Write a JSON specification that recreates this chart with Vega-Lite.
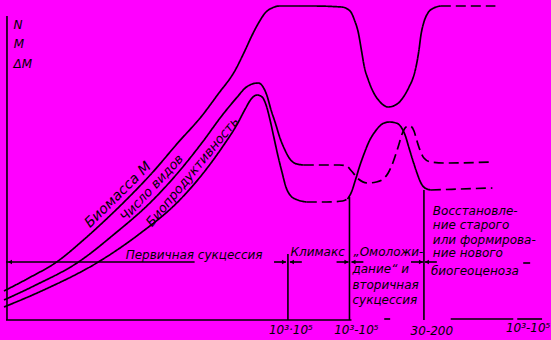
{
  "$schema": "https://vega.github.io/schema/vega-lite/v6.json",
  "width": 551,
  "height": 340,
  "autosize": {"type": "fit", "contains": "padding"},
  "padding": 0,
  "background": "#ff00ff",
  "config": {"view": {"stroke": null}},
  "datasets": {
    "curves": [
      {"seg":"M1","line":"solid","x":0,"y":9.8},{"seg":"M1","line":"solid","x":5,"y":12.4},{"seg":"M1","line":"solid","x":10.6,"y":15.6},{"seg":"M1","line":"solid","x":16,"y":20},{"seg":"M1","line":"solid","x":20,"y":23.6},{"seg":"M1","line":"solid","x":24.6,"y":28},{"seg":"M1","line":"solid","x":30,"y":33.6},{"seg":"M1","line":"solid","x":35,"y":39.4},{"seg":"M1","line":"solid","x":40,"y":45},{"seg":"M1","line":"solid","x":43,"y":49},{"seg":"M1","line":"solid","x":46.6,"y":54},{"seg":"M1","line":"solid","x":48.6,"y":58},{"seg":"M1","line":"solid","x":50,"y":61},{"seg":"M1","line":"solid","x":51.4,"y":63.6},{"seg":"M1","line":"solid","x":52.6,"y":65.4},{"seg":"M1","line":"solid","x":54,"y":66.4},{"seg":"M1","line":"solid","x":55.6,"y":66.8},{"seg":"M1","line":"solid","x":62,"y":66.8},{"seg":"M1","line":"solid","x":68,"y":66.6},{"seg":"M1","line":"solid","x":69.2,"y":66.2},{"seg":"M1","line":"solid","x":70,"y":65.4},{"seg":"M1","line":"solid","x":70.6,"y":64},{"seg":"M1","line":"solid","x":71.4,"y":61.4},{"seg":"M1","line":"solid","x":72,"y":58},{"seg":"M1","line":"solid","x":72.6,"y":54.6},{"seg":"M1","line":"solid","x":73.4,"y":52},{"seg":"M1","line":"solid","x":74.2,"y":50},{"seg":"M1","line":"solid","x":75.6,"y":47.8},{"seg":"M1","line":"solid","x":77.4,"y":46.6},{"seg":"M1","line":"solid","x":79.2,"y":47.2},{"seg":"M1","line":"solid","x":80.6,"y":48.8},{"seg":"M1","line":"solid","x":81.6,"y":50.6},{"seg":"M1","line":"solid","x":82.4,"y":52.4},{"seg":"M1","line":"solid","x":83,"y":54.6},{"seg":"M1","line":"solid","x":83.6,"y":58},{"seg":"M1","line":"solid","x":84,"y":61},{"seg":"M1","line":"solid","x":84.6,"y":63.6},{"seg":"M1","line":"solid","x":85.4,"y":65.4},{"seg":"M1","line":"solid","x":86.6,"y":66.4},{"seg":"M1","line":"solid","x":88,"y":66.8},
      {"seg":"M2","line":"dashed","x":88,"y":66.8},{"seg":"M2","line":"dashed","x":99,"y":66.8},
      {"seg":"N1","line":"solid","x":0,"y":8},{"seg":"N1","line":"solid","x":6,"y":10.8},{"seg":"N1","line":"solid","x":15,"y":15.6},{"seg":"N1","line":"solid","x":22,"y":21},{"seg":"N1","line":"solid","x":30,"y":28},{"seg":"N1","line":"solid","x":35,"y":33.4},{"seg":"N1","line":"solid","x":40,"y":39.6},{"seg":"N1","line":"solid","x":44,"y":45},{"seg":"N1","line":"solid","x":47,"y":48.6},{"seg":"N1","line":"solid","x":48.6,"y":50.4},{"seg":"N1","line":"solid","x":50,"y":51.2},{"seg":"N1","line":"solid","x":51.2,"y":51.4},{"seg":"N1","line":"solid","x":52.2,"y":50.6},{"seg":"N1","line":"solid","x":53,"y":48.8},{"seg":"N1","line":"solid","x":53.8,"y":46},{"seg":"N1","line":"solid","x":54.6,"y":43.6},{"seg":"N1","line":"solid","x":55.6,"y":40.4},{"seg":"N1","line":"solid","x":56.6,"y":38},{"seg":"N1","line":"solid","x":57.6,"y":36.2},{"seg":"N1","line":"solid","x":59,"y":35.2},{"seg":"N1","line":"solid","x":60.4,"y":35},
      {"seg":"N2","line":"dashed","x":60.4,"y":35},{"seg":"N2","line":"dashed","x":64,"y":35},{"seg":"N2","line":"dashed","x":67.6,"y":35},{"seg":"N2","line":"dashed","x":69,"y":34.8},{"seg":"N2","line":"dashed","x":70,"y":33.8},{"seg":"N2","line":"dashed","x":71.4,"y":32.2},{"seg":"N2","line":"dashed","x":73.2,"y":31.4},{"seg":"N2","line":"dashed","x":75,"y":31.6},{"seg":"N2","line":"dashed","x":76.4,"y":32.2},{"seg":"N2","line":"dashed","x":77.4,"y":33.4},{"seg":"N2","line":"dashed","x":78.4,"y":35.6},{"seg":"N2","line":"dashed","x":79.4,"y":38.6},{"seg":"N2","line":"dashed","x":80.2,"y":41.2},{"seg":"N2","line":"dashed","x":81,"y":42.6},{"seg":"N2","line":"dashed","x":81.8,"y":42.8},{"seg":"N2","line":"dashed","x":82.6,"y":41.8},{"seg":"N2","line":"dashed","x":83.2,"y":39.8},{"seg":"N2","line":"dashed","x":83.8,"y":38},{"seg":"N2","line":"dashed","x":84.6,"y":36.4},{"seg":"N2","line":"dashed","x":86,"y":35.6},{"seg":"N2","line":"dashed","x":89,"y":35.4},{"seg":"N2","line":"dashed","x":98,"y":35.6},
      {"seg":"P1","line":"solid","x":0,"y":6.6},{"seg":"P1","line":"solid","x":8,"y":10},{"seg":"P1","line":"solid","x":19,"y":15.6},{"seg":"P1","line":"solid","x":27,"y":21},{"seg":"P1","line":"solid","x":35.4,"y":28},{"seg":"P1","line":"solid","x":40,"y":33.2},{"seg":"P1","line":"solid","x":44,"y":38.6},{"seg":"P1","line":"solid","x":47,"y":43.2},{"seg":"P1","line":"solid","x":48.6,"y":46.2},{"seg":"P1","line":"solid","x":49.8,"y":48.2},{"seg":"P1","line":"solid","x":51,"y":49},{"seg":"P1","line":"solid","x":52,"y":48.6},{"seg":"P1","line":"solid","x":52.8,"y":47},{"seg":"P1","line":"solid","x":53.6,"y":44},{"seg":"P1","line":"solid","x":54.4,"y":40.4},{"seg":"P1","line":"solid","x":55.2,"y":36.8},{"seg":"P1","line":"solid","x":56,"y":33.6},{"seg":"P1","line":"solid","x":56.8,"y":30.6},{"seg":"P1","line":"solid","x":57.8,"y":28.8},{"seg":"P1","line":"solid","x":59.2,"y":28},{"seg":"P1","line":"solid","x":61,"y":27.6},
      {"seg":"P2","line":"dashed","x":61,"y":27.6},{"seg":"P2","line":"dashed","x":65,"y":27.6},{"seg":"P2","line":"dashed","x":68.2,"y":27.8},{"seg":"P2","line":"dashed","x":69.2,"y":28.2},
      {"seg":"P3","line":"solid","x":69.2,"y":28.2},{"seg":"P3","line":"solid","x":70,"y":29.6},{"seg":"P3","line":"solid","x":70.8,"y":32},{"seg":"P3","line":"solid","x":71.6,"y":34.6},{"seg":"P3","line":"solid","x":72.6,"y":37.4},{"seg":"P3","line":"solid","x":73.6,"y":39.8},{"seg":"P3","line":"solid","x":75,"y":42},{"seg":"P3","line":"solid","x":76.2,"y":43.2},{"seg":"P3","line":"solid","x":77.6,"y":43.6},{"seg":"P3","line":"solid","x":79,"y":43.4},{"seg":"P3","line":"solid","x":80,"y":42.6},{"seg":"P3","line":"solid","x":80.8,"y":41},{"seg":"P3","line":"solid","x":81.6,"y":38.4},{"seg":"P3","line":"solid","x":82.4,"y":35.8},{"seg":"P3","line":"solid","x":83.2,"y":33.4},{"seg":"P3","line":"solid","x":84,"y":31.4},{"seg":"P3","line":"solid","x":84.8,"y":30.4},{"seg":"P3","line":"solid","x":86,"y":30},
      {"seg":"P4","line":"dashed","x":86,"y":30},{"seg":"P4","line":"dashed","x":92,"y":30.2},{"seg":"P4","line":"dashed","x":98.4,"y":30.4}
    ],
    "rules": [
      {"x":0.6,"x2":0.6,"y":4,"y2":64.8},
      {"x":0.4,"x2":70,"y":4,"y2":4},
      {"x":76.6,"x2":77.8,"y":4.2,"y2":4.2},
      {"x":90,"x2":102.6,"y":4.2,"y2":4.2},
      {"x":103.4,"x2":108.4,"y":4.2,"y2":4.2},
      {"x":0.4,"x2":38.4,"y":15.6,"y2":15.6},
      {"x":57.2,"x2":57.2,"y":4,"y2":17.2},
      {"x":69.6,"x2":69.6,"y":4,"y2":28.6},
      {"x":84.6,"x2":84.6,"y":4,"y2":30},
      {"x":54.4,"x2":56.8,"y":15.6,"y2":15.6},
      {"x":57.6,"x2":60,"y":15.6,"y2":15.6},
      {"x":67,"x2":69.4,"y":15.6,"y2":15.6},
      {"x":70,"x2":72.4,"y":15.6,"y2":15.6},
      {"x":82,"x2":84.4,"y":15.6,"y2":15.6},
      {"x":84.8,"x2":87.2,"y":15.6,"y2":15.6},
      {"x":104.6,"x2":106,"y":15.4,"y2":15.4}
    ],
    "heads": [
      {"x":1.2,"y":15.6,"dir":"left"},
      {"x":56.4,"y":15.6,"dir":"right"},
      {"x":58,"y":15.6,"dir":"left"},
      {"x":69,"y":15.6,"dir":"right"},
      {"x":70.4,"y":15.6,"dir":"left"},
      {"x":84,"y":15.6,"dir":"right"},
      {"x":85.2,"y":15.6,"dir":"left"}
    ],
    "labels": [
      {"grp":"c","text":"N","x":2.8,"y":62.2},
      {"grp":"c","text":"M","x":3,"y":58.4},
      {"grp":"c","text":"ΔM","x":3.8,"y":54.4},
      {"grp":"c","text":"Первичная сукцессия","x":38.3,"y":16.2},
      {"grp":"c","text":"Климакс","x":63.2,"y":16.8},
      {"grp":"c","text":"10³·10⁵","x":57.8,"y":1.2},
      {"grp":"c","text":"10³-10⁵","x":71,"y":1.2},
      {"grp":"c","text":"30-200","x":86.2,"y":1},
      {"grp":"c","text":"10³-10⁵","x":105.6,"y":1.6},
      {"grp":"l","text":"„Омоложи-","x":70.4,"y":16.8},
      {"grp":"l","text":"дание“ и","x":70.2,"y":13.4},
      {"grp":"l","text":"вторичная","x":70.2,"y":10.2},
      {"grp":"l","text":"сукцессия","x":70.2,"y":7.2},
      {"grp":"l","text":"Восстановле-","x":86.4,"y":25},
      {"grp":"l","text":"ние старого","x":86.4,"y":22.2},
      {"grp":"l","text":"или формирова-","x":86.4,"y":19.2},
      {"grp":"l","text":"ние нового","x":86.4,"y":16.6},
      {"grp":"l","text":"биогеоценоза","x":86,"y":13},
      {"grp":"r1","text":"Биомасса M","x":23,"y":29},
      {"grp":"r2","text":"Число видов","x":29.8,"y":30.4},
      {"grp":"r3","text":"Биопродуктивность","x":38,"y":33.6}
    ]
  },
  "layer": [
    {
      "data": {"name": "curves"},
      "mark": {"type": "line", "color": "black", "strokeWidth": 1.7, "interpolate": "monotone"},
      "encoding": {
        "x": {"field": "x", "type": "quantitative", "scale": {"domain": [0, 110.2], "nice": false, "zero": false}, "axis": null},
        "y": {"field": "y", "type": "quantitative", "scale": {"domain": [0, 68], "nice": false, "zero": false}, "axis": null},
        "detail": {"field": "seg"},
        "strokeDash": {"field": "line", "type": "nominal", "scale": {"domain": ["solid", "dashed"], "range": [[1, 0], [10, 5]]}, "legend": null}
      }
    },
    {
      "data": {"name": "rules"},
      "mark": {"type": "rule", "color": "black", "strokeWidth": 1.6},
      "encoding": {
        "x": {"field": "x", "type": "quantitative"},
        "x2": {"field": "x2"},
        "y": {"field": "y", "type": "quantitative"},
        "y2": {"field": "y2"}
      }
    },
    {
      "data": {"name": "heads"},
      "mark": {"type": "point", "filled": true, "color": "black", "size": 22, "opacity": 1},
      "encoding": {
        "x": {"field": "x", "type": "quantitative"},
        "y": {"field": "y", "type": "quantitative"},
        "shape": {"field": "dir", "type": "nominal", "scale": {"domain": ["left", "right"], "range": ["triangle-left", "triangle-right"]}, "legend": null}
      }
    },
    {
      "data": {"name": "labels"},
      "transform": [{"filter": "datum.grp === 'c'"}],
      "mark": {"type": "text", "font": "DejaVu Sans", "fontStyle": "italic", "fontSize": 12, "color": "black", "align": "center", "baseline": "alphabetic"},
      "encoding": {
        "x": {"field": "x", "type": "quantitative"},
        "y": {"field": "y", "type": "quantitative"},
        "text": {"field": "text"}
      }
    },
    {
      "data": {"name": "labels"},
      "transform": [{"filter": "datum.grp === 'l'"}],
      "mark": {"type": "text", "font": "DejaVu Sans", "fontStyle": "italic", "fontSize": 12, "color": "black", "align": "left", "baseline": "alphabetic"},
      "encoding": {
        "x": {"field": "x", "type": "quantitative"},
        "y": {"field": "y", "type": "quantitative"},
        "text": {"field": "text"}
      }
    },
    {
      "data": {"name": "labels"},
      "transform": [{"filter": "datum.grp === 'r1'"}],
      "mark": {"type": "text", "font": "DejaVu Sans", "fontStyle": "italic", "fontSize": 14, "color": "black", "align": "center", "baseline": "middle", "angle": -44.6},
      "encoding": {
        "x": {"field": "x", "type": "quantitative"},
        "y": {"field": "y", "type": "quantitative"},
        "text": {"field": "text"}
      }
    },
    {
      "data": {"name": "labels"},
      "transform": [{"filter": "datum.grp === 'r2'"}],
      "mark": {"type": "text", "font": "DejaVu Sans", "fontStyle": "italic", "fontSize": 13, "color": "black", "align": "center", "baseline": "middle", "angle": -47},
      "encoding": {
        "x": {"field": "x", "type": "quantitative"},
        "y": {"field": "y", "type": "quantitative"},
        "text": {"field": "text"}
      }
    },
    {
      "data": {"name": "labels"},
      "transform": [{"filter": "datum.grp === 'r3'"}],
      "mark": {"type": "text", "font": "DejaVu Sans", "fontStyle": "italic", "fontSize": 13, "color": "black", "align": "center", "baseline": "middle", "angle": -50.5},
      "encoding": {
        "x": {"field": "x", "type": "quantitative"},
        "y": {"field": "y", "type": "quantitative"},
        "text": {"field": "text"}
      }
    }
  ]
}
